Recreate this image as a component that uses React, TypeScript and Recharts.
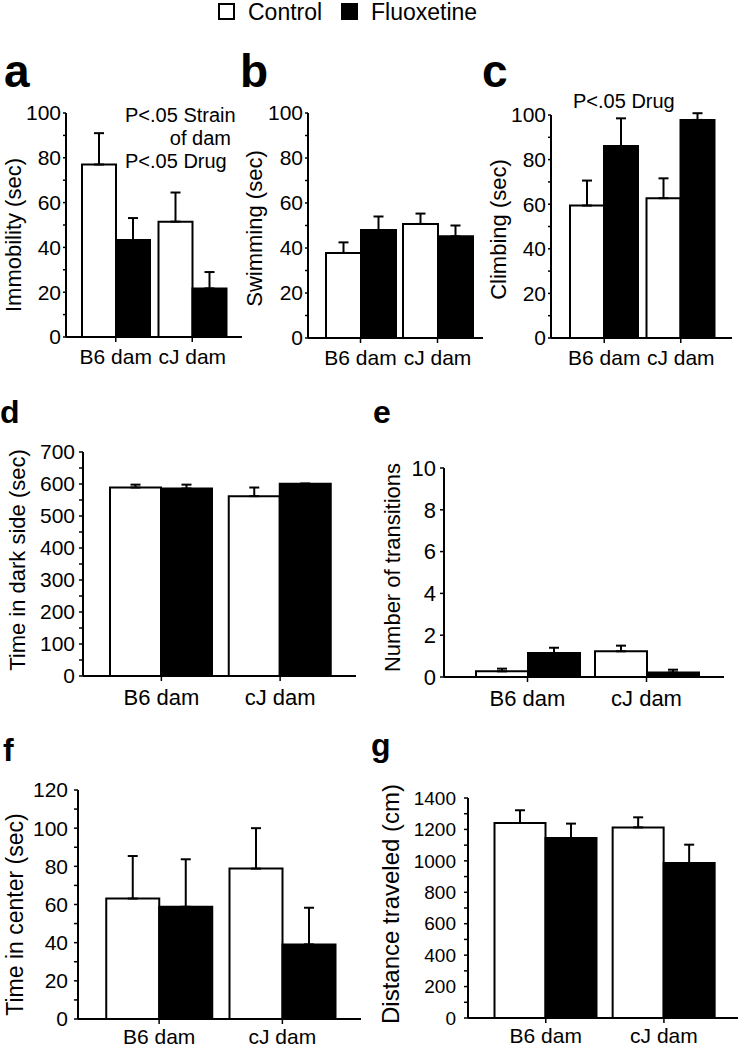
import React from 'react';
import { BarChart, Bar, XAxis, YAxis, ErrorBar } from 'recharts';

const FONT = '"Liberation Sans", Arial, sans-serif';

const groups = ['B6 dam', 'cJ dam'];

// a: forced swim, immobility
const immobCtrl = [77, 51.5];
const immobCtrlErr = [14, 13];
const immobFlx = [43.3, 21.7];
const immobFlxErr = [9.8, 7.3];

// b: swimming
const swimCtrl = [37.8, 50.7];
const swimCtrlErr = [4.7, 4.6];
const swimFlx = [48, 45.2];
const swimFlxErr = [6, 4.8];

// c: climbing
const climbCtrl = [59.4, 62.7];
const climbCtrlErr = [11.2, 8.9];
const climbFlx = [86.1, 97.8];
const climbFlxErr = [12.4, 3];

// d: light/dark, time in dark side
const darkCtrl = [589, 562];
const darkCtrlErr = [9, 27];
const darkFlx = [586, 601];
const darkFlxErr = [12, 0];

// e: transitions
const transCtrl = [0.27, 1.23];
const transCtrlErr = [0.13, 0.27];
const transFlx = [1.15, 0.22];
const transFlxErr = [0.25, 0.13];

// f: open field, time in center
const centerCtrl = [63.1, 78.8];
const centerCtrlErr = [22.3, 21.2];
const centerFlx = [58.8, 39.1];
const centerFlxErr = [24.9, 19.2];

// g: distance traveled
const distCtrl = [1241, 1213];
const distCtrlErr = [81, 64];
const distFlx = [1145, 986];
const distFlxErr = [92, 117];

const ticks100 = [0, 10, 20, 30, 40, 50, 60, 70, 80, 90, 100];
const ticks700 = [0, 50, 100, 150, 200, 250, 300, 350, 400, 450, 500, 550, 600, 650, 700];
const ticks10 = [0, 2, 4, 6, 8, 10];
const ticks120 = [0, 10, 20, 30, 40, 50, 60, 70, 80, 90, 100, 110, 120];
const ticks1400 = [0, 100, 200, 300, 400, 500, 600, 700, 800, 900, 1000, 1100, 1200, 1300, 1400];

function rows(ctrl: number[], ctrlErr: number[], flx: number[], flxErr: number[]) {
  return groups.map((g, i) => ({
    group: g,
    ctrl: ctrl[i],
    ctrlErr: [0, ctrlErr[i]],
    flx: flx[i],
    flxErr: [0, flxErr[i]],
  }));
}

type Box = { left: number; top: number; width: number; height: number };
type Plot = { l: number; t: number; r: number; b: number };

type PanelProps = {
  data: any[];
  box: Box;
  plot: Plot;
  xh: number;
  max: number;
  ticks: number[];
  step: number;
  yLabel: string;
  labelX: number;
  labelDy: number;
  labelSize: number;
  yFont: number;
  yTickSize: number;
  yTickMargin: number;
  xFont: number;
  xTickMargin: number;
  pad: [number, number];
  catGap: number;
};

function Panel(p: PanelProps) {
  const yw = p.plot.l - p.box.left;
  const margin = {
    top: p.plot.t - p.box.top,
    right: p.box.left + p.box.width - p.plot.r,
    bottom: p.box.top + p.box.height - p.plot.b - p.xh,
    left: 0,
  };
  return (
    <div style={{ position: 'absolute', left: p.box.left, top: p.box.top }}>
      <BarChart
        width={p.box.width}
        height={p.box.height}
        data={p.data}
        margin={margin}
        barGap={0}
        barCategoryGap={p.catGap}
      >
        <XAxis
          dataKey="group"
          height={p.xh}
          interval={0}
          padding={{ left: p.pad[0], right: p.pad[1] }}
          axisLine={{ stroke: '#000', strokeWidth: 2 }}
          tickLine={{ stroke: '#000', strokeWidth: 1.5 }}
          tickSize={5}
          tickMargin={p.xTickMargin}
          tick={{ fill: '#000', fontSize: p.xFont, fontFamily: FONT }}
        />
        <YAxis
          width={yw}
          domain={[0, p.max]}
          ticks={p.ticks}
          interval={0}
          allowDataOverflow
          axisLine={{ stroke: '#000', strokeWidth: 2 }}
          tickLine={{ stroke: '#000', strokeWidth: 1.5 }}
          tickSize={p.yTickSize}
          tickMargin={p.yTickMargin}
          tick={{ fill: '#000', fontSize: p.yFont, fontFamily: FONT }}
          tickFormatter={(v: number) => (v % p.step === 0 ? String(v) : '')}
          label={{
            value: p.yLabel,
            angle: -90,
            position: 'insideLeft',
            offset: p.labelX - p.box.left,
            dy: p.labelDy,
            fill: '#000',
            fontSize: p.labelSize,
            fontFamily: FONT,
            style: { textAnchor: 'middle' },
          }}
        />
        <Bar dataKey="ctrl" name="Control" fill="#fff" stroke="#000" strokeWidth={2} isAnimationActive={false}>
          <ErrorBar dataKey="ctrlErr" width={5} stroke="#000" strokeWidth={2} direction="y" />
        </Bar>
        <Bar dataKey="flx" name="Fluoxetine" fill="#000" stroke="#000" strokeWidth={2} isAnimationActive={false}>
          <ErrorBar dataKey="flxErr" width={5} stroke="#000" strokeWidth={2} direction="y" />
        </Bar>
      </BarChart>
    </div>
  );
}

const topRow = { xh: 40, yFont: 21, yTickSize: 3, yTickMargin: 2, xFont: 21, xTickMargin: 7, labelSize: 22 };
const bottomRow = { yFont: 21, yTickSize: 4, yTickMargin: 4, xFont: 22, xTickMargin: 8 };

export default function App() {
  return (
    <div style={{ position: 'absolute', left: 0, top: 0, width: 740, height: 1050, background: '#fff', fontFamily: FONT }}>
      <Panel
        {...topRow}
        data={rows(immobCtrl, immobCtrlErr, immobFlx, immobFlxErr)}
        box={{ left: 0, top: 100, width: 250, height: 285 }}
        plot={{ l: 66, t: 113, r: 242, b: 337 }}
        max={100}
        ticks={ticks100}
        step={20}
        yLabel="Immobility (sec)"
        labelX={13}
        labelDy={10}
        pad={[11.5, 11.5]}
        catGap={4.5}
      />
      <Panel
        {...topRow}
        data={rows(swimCtrl, swimCtrlErr, swimFlx, swimFlxErr)}
        box={{ left: 240, top: 100, width: 250, height: 285 }}
        plot={{ l: 308, t: 113, r: 483, b: 338 }}
        max={100}
        ticks={ticks100}
        step={20}
        yLabel="Swimming (sec)"
        labelX={254}
        labelDy={3}
        pad={[14, 7]}
        catGap={4}
      />
      <Panel
        {...topRow}
        data={rows(climbCtrl, climbCtrlErr, climbFlx, climbFlxErr)}
        box={{ left: 482, top: 100, width: 258, height: 285 }}
        plot={{ l: 551, t: 115, r: 732, b: 338 }}
        max={100}
        ticks={ticks100}
        step={20}
        yLabel="Climbing (sec)"
        labelX={498}
        labelDy={3}
        pad={[15, 13]}
        catGap={4}
      />
      <Panel
        {...bottomRow}
        xh={40}
        data={rows(darkCtrl, darkCtrlErr, darkFlx, darkFlxErr)}
        box={{ left: 0, top: 440, width: 370, height: 280 }}
        plot={{ l: 83, t: 452, r: 356, b: 676 }}
        max={700}
        ticks={ticks700}
        step={100}
        yLabel="Time in dark side (sec)"
        labelX={17}
        labelDy={-4}
        labelSize={22}
        pad={[19, 16.5]}
        catGap={8}
      />
      <Panel
        {...bottomRow}
        xh={40}
        data={rows(transCtrl, transCtrlErr, transFlx, transFlxErr)}
        box={{ left: 370, top: 440, width: 370, height: 280 }}
        plot={{ l: 444, t: 468, r: 724, b: 677 }}
        max={10}
        ticks={ticks10}
        step={2}
        yLabel="Number of transitions"
        labelX={392}
        labelDy={-5}
        labelSize={22}
        yFont={22}
        pad={[24, 18]}
        catGap={8}
      />
      <Panel
        {...bottomRow}
        xh={30}
        xFont={21}
        xTickMargin={5}
        data={rows(centerCtrl, centerCtrlErr, centerFlx, centerFlxErr)}
        box={{ left: 0, top: 770, width: 370, height: 280 }}
        plot={{ l: 78, t: 790, r: 361, b: 1019 }}
        max={120}
        ticks={ticks120}
        step={20}
        yLabel="Time in center (sec)"
        labelX={15}
        labelDy={10}
        labelSize={23}
        yTickMargin={6}
        pad={[19.5, 17]}
        catGap={8.75}
      />
      <Panel
        {...bottomRow}
        xh={30}
        xFont={21}
        xTickMargin={5}
        data={rows(distCtrl, distCtrlErr, distFlx, distFlxErr)}
        box={{ left: 370, top: 770, width: 370, height: 280 }}
        plot={{ l: 468, t: 798, r: 738, b: 1018 }}
        max={1400}
        ticks={ticks1400}
        step={200}
        yLabel="Distance traveled (cm)"
        labelX={390}
        labelDy={-4}
        labelSize={24}
        yFont={19}
        yTickMargin={8}
        pad={[18.7, 15]}
        catGap={7.8}
      />
      <svg
        width={740}
        height={1050}
        style={{ position: 'absolute', left: 0, top: 0, pointerEvents: 'none' }}
        fontFamily={FONT}
      >
        <rect x={219} y={4} width={15} height={15} fill="#fff" stroke="#000" strokeWidth={2} />
        <text x={248} y={20} fontSize={23}>Control</text>
        <rect x={341} y={3} width={17} height={17} fill="#000" />
        <text x={371} y={20} fontSize={23}>Fluoxetine</text>

        <text x={4} y={87} fontSize={46} fontWeight="bold">a</text>
        <text x={240} y={87} fontSize={46} fontWeight="bold">b</text>
        <text x={482} y={87} fontSize={46} fontWeight="bold">c</text>
        <text x={0} y={423} fontSize={32} fontWeight="bold">d</text>
        <text x={373} y={423} fontSize={32} fontWeight="bold">e</text>
        <text x={3} y={761} fontSize={32} fontWeight="bold">f</text>
        <text x={371} y={756} fontSize={32} fontWeight="bold">g</text>

        <text x={125} y={122} fontSize={20}>P&lt;.05 Strain</text>
        <text x={231} y={145} fontSize={20} textAnchor="end">of dam</text>
        <text x={125} y={168} fontSize={20}>P&lt;.05 Drug</text>
        <text x={573} y={108} fontSize={20}>P&lt;.05 Drug</text>
      </svg>
    </div>
  );
}
